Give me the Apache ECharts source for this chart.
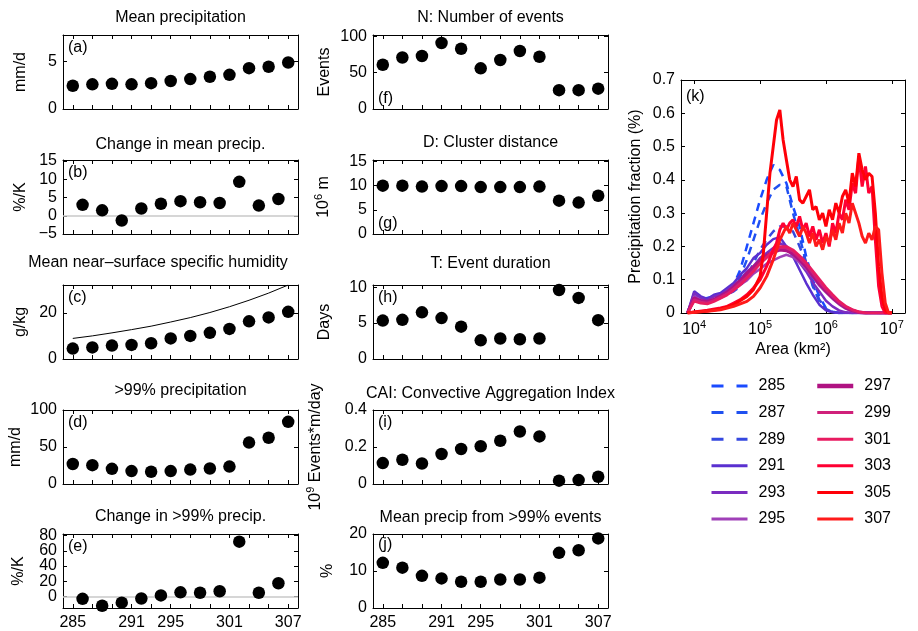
<!DOCTYPE html>
<html>
<head>
<meta charset="utf-8">
<script src="https://cdn.jsdelivr.net/npm/echarts@6/dist/echarts.min.js"></script>
<style>
  html, body { margin: 0; padding: 0; background: #fff; }
  #chart { width: 918px; height: 631px; }
</style>
</head>
<body>
<div id="chart"></div>
<script>
const FONT = "'Liberation Sans', Arial, Helvetica, sans-serif";

// surface temperatures (K)
const temps = [285, 287, 289, 291, 293, 295, 297, 299, 301, 303, 305, 307];
const midTemps = [286, 288, 290, 292, 294, 296, 298, 300, 302, 304, 306];
const tempLabels = [285, 291, 295, 301, 307];

// left column
const meanPrecip = [2.45, 2.6, 2.65, 2.6, 2.72, 2.95, 3.15, 3.4, 3.6, 4.3, 4.45, 4.9];
const changeMean = [3.0, 1.5, -1.3, 2.0, 3.3, 4.0, 3.7, 3.5, 9.3, 2.8, 4.6];
const humidity = [4.5, 5.0, 5.8, 6.1, 6.8, 8.9, 10.0, 11.3, 13.0, 16.3, 18.0, 20.4];
const ccCurve = [8.9, 10.0, 11.3, 12.7, 14.2, 16.0, 17.9, 20.1, 22.6, 25.4, 28.5, 32.0];
const extremePrecip = [27, 25.5, 20.5, 17.5, 16.5, 17.5, 19.5, 21, 23.5, 56, 62.5, 84];
const changeExtreme = [-3, -12, -8, -2.5, 1.5, 5.5, 5, 7, 72, 5, 17.5];

// middle column
const events = [61, 71, 73, 91, 83, 56, 67.5, 80, 72, 26, 26, 28];
const clusterDist = [10.0, 10.0, 9.8, 9.9, 9.9, 9.7, 9.7, 9.7, 9.8, 6.9, 6.5, 7.9];
const duration = [5.35, 5.45, 6.5, 5.7, 4.5, 2.6, 2.85, 2.75, 2.85, 9.6, 8.5, 5.4];
const cai = [0.113, 0.131, 0.111, 0.162, 0.189, 0.204, 0.234, 0.284, 0.257, 0.018, 0.021, 0.039];
const extremeFrac = [12.2, 10.9, 8.7, 8.0, 7.1, 7.1, 7.7, 7.7, 8.2, 14.9, 15.6, 18.8];

// panel (k): log10(area) grid and precipitation fraction
const areaExp = [3.9, 4.0, 4.1, 4.2, 4.3, 4.4, 4.5, 4.6, 4.7, 4.8, 4.9, 5.0, 5.1, 5.2, 5.3, 5.4,
                 5.5, 5.6, 5.7, 5.8, 5.9, 6.0, 6.1, 6.2, 6.3, 6.4, 6.5, 6.6, 6.7, 6.8, 6.9, 7.0];
const frac285 = [0, 0.05, 0.04, 0.045, 0.05, 0.055, 0.065, 0.085, 0.13, 0.2, 0.27, 0.34, 0.4, 0.445, 0.43, 0.39,
                 0.32, 0.26, 0.17, 0.1, 0.05, 0.015, 0.004, 0, 0, 0, 0, 0, 0, 0, 0, 0];
const frac287 = [0, 0.05, 0.04, 0.04, 0.045, 0.05, 0.06, 0.075, 0.11, 0.16, 0.22, 0.28, 0.33, 0.37, 0.385, 0.38,
                 0.3, 0.23, 0.15, 0.08, 0.035, 0.01, 0.003, 0, 0, 0, 0, 0, 0, 0, 0, 0];
const frac289 = [0, 0.05, 0.04, 0.04, 0.045, 0.05, 0.055, 0.065, 0.08, 0.11, 0.15, 0.19, 0.22, 0.245, 0.26, 0.26,
                 0.245, 0.2, 0.15, 0.085, 0.04, 0.012, 0.003, 0, 0, 0, 0, 0, 0, 0, 0, 0];
const frac291 = [0, 0.065, 0.05, 0.042, 0.055, 0.06, 0.075, 0.09, 0.115, 0.135, 0.165, 0.18, 0.205, 0.222, 0.228, 0.2,
                 0.17, 0.13, 0.09, 0.055, 0.025, 0.008, 0.002, 0, 0, 0, 0, 0, 0, 0, 0, 0];
const frac293 = [0, 0.06, 0.045, 0.038, 0.05, 0.055, 0.068, 0.085, 0.1, 0.125, 0.14, 0.165, 0.18, 0.195, 0.21, 0.2,
                 0.182, 0.152, 0.125, 0.092, 0.065, 0.037, 0.02, 0.008, 0.002, 0, 0, 0, 0, 0, 0, 0];
const frac295 = [0, 0.05, 0.038, 0.034, 0.042, 0.045, 0.058, 0.07, 0.085, 0.098, 0.118, 0.132, 0.148, 0.158, 0.168, 0.175,
                 0.168, 0.152, 0.132, 0.108, 0.082, 0.062, 0.043, 0.026, 0.013, 0.005, 0.001, 0, 0, 0, 0, 0];
const frac297 = [0, 0.045, 0.036, 0.034, 0.04, 0.05, 0.062, 0.078, 0.097, 0.118, 0.138, 0.157, 0.172, 0.183, 0.19, 0.188,
                 0.178, 0.16, 0.14, 0.112, 0.088, 0.066, 0.046, 0.03, 0.016, 0.007, 0.002, 0, 0, 0, 0, 0];
const frac299 = [0, 0.04, 0.033, 0.03, 0.038, 0.048, 0.058, 0.073, 0.09, 0.108, 0.128, 0.148, 0.166, 0.18, 0.197, 0.195,
                 0.185, 0.166, 0.146, 0.12, 0.094, 0.071, 0.051, 0.032, 0.019, 0.009, 0.003, 0, 0, 0, 0, 0];
const frac301 = [0, 0.035, 0.029, 0.027, 0.034, 0.044, 0.054, 0.068, 0.084, 0.104, 0.124, 0.148, 0.168, 0.188, 0.2, 0.2,
                 0.19, 0.172, 0.152, 0.127, 0.102, 0.077, 0.056, 0.036, 0.021, 0.011, 0.004, 0.001, 0, 0, 0, 0];
// warm runs: [log10 area, fraction]
const frac303 = [[3.9, 0], [4.0, 0.003], [4.2, 0.008], [4.4, 0.015], [4.5, 0.02], [4.6, 0.03], [4.7, 0.04], [4.8, 0.055],
  [4.9, 0.075], [5.0, 0.1], [5.1, 0.14], [5.2, 0.19], [5.25, 0.21], [5.3, 0.25], [5.35, 0.27], [5.4, 0.25], [5.45, 0.27],
  [5.5, 0.28], [5.55, 0.26], [5.6, 0.29], [5.65, 0.25], [5.7, 0.27], [5.75, 0.23], [5.8, 0.26], [5.85, 0.22], [5.9, 0.25],
  [5.95, 0.21], [6.0, 0.24], [6.05, 0.2], [6.1, 0.27], [6.15, 0.24], [6.2, 0.3], [6.25, 0.28], [6.3, 0.34], [6.35, 0.31],
  [6.4, 0.39], [6.45, 0.36], [6.5, 0.47], [6.55, 0.38], [6.6, 0.44], [6.65, 0.36], [6.7, 0.38], [6.75, 0.22], [6.8, 0.08],
  [6.85, 0.02], [6.9, 0], [7.0, 0]];
const frac305 = [[3.9, 0], [4.0, 0.002], [4.2, 0.006], [4.4, 0.012], [4.6, 0.025], [4.8, 0.05], [4.9, 0.07], [5.0, 0.11],
  [5.05, 0.18], [5.1, 0.3], [5.15, 0.42], [5.2, 0.5], [5.25, 0.58], [5.3, 0.61], [5.35, 0.52], [5.4, 0.46], [5.45, 0.4],
  [5.5, 0.38], [5.55, 0.41], [5.6, 0.34], [5.65, 0.33], [5.7, 0.35], [5.75, 0.37], [5.8, 0.31], [5.85, 0.32], [5.9, 0.28],
  [5.95, 0.3], [6.0, 0.26], [6.05, 0.31], [6.1, 0.28], [6.15, 0.33], [6.2, 0.3], [6.25, 0.35], [6.3, 0.37], [6.35, 0.33],
  [6.4, 0.42], [6.45, 0.38], [6.5, 0.48], [6.55, 0.43], [6.6, 0.4], [6.65, 0.42], [6.7, 0.41], [6.75, 0.3], [6.8, 0.14],
  [6.85, 0.05], [6.9, 0.01], [6.95, 0], [7.0, 0]];
const frac307 = [[3.9, 0], [4.0, 0.002], [4.2, 0.005], [4.4, 0.01], [4.6, 0.02], [4.8, 0.035], [4.9, 0.05], [5.0, 0.075],
  [5.1, 0.11], [5.2, 0.16], [5.25, 0.19], [5.3, 0.22], [5.35, 0.24], [5.4, 0.26], [5.45, 0.24], [5.5, 0.27], [5.55, 0.25],
  [5.6, 0.23], [5.65, 0.26], [5.7, 0.24], [5.75, 0.21], [5.8, 0.24], [5.85, 0.2], [5.9, 0.22], [5.95, 0.19], [6.0, 0.23],
  [6.05, 0.21], [6.1, 0.25], [6.15, 0.22], [6.2, 0.27], [6.25, 0.24], [6.3, 0.3], [6.35, 0.27], [6.4, 0.33], [6.45, 0.3],
  [6.5, 0.27], [6.55, 0.23], [6.6, 0.21], [6.65, 0.24], [6.7, 0.22], [6.75, 0.26], [6.8, 0.25], [6.85, 0.12], [6.9, 0.03],
  [6.95, 0], [7.0, 0]];
const areaTicks = [4, 5, 6, 7];

// layout
const colLeft = [63, 373];
const rowTop = [35, 160, 285, 410, 534];
const W = 235, H = 74;

const panels = [
  { tag: "(a)", title: "Mean precipitation", unit: "mm/d", col: 0, row: 0, xs: temps, ys: meanPrecip,
    min: 0, max: 7.8, ticks: [0, 5], titleY: 18, gap: 31 },
  { tag: "(b)", title: "Change in mean precip.", unit: "%/K", col: 0, row: 1, xs: midTemps, ys: changeMean,
    min: -5, max: 15.3, ticks: [-5, 0, 5, 10, 15], titleY: 145, gap: 31, zero: true },
  { tag: "(c)", title: "Mean near\u2013surface specific humidity", unit: "g/kg", col: 0, row: 2, xs: temps, ys: humidity,
    min: 0, max: 32, ticks: [0, 20], titleY: 263, titleX: 158, gap: 31, curve: ccCurve },
  { tag: "(d)", title: ">99% precipitation", unit: "mm/d", col: 0, row: 3, xs: temps, ys: extremePrecip,
    min: 0, max: 100, ticks: [0, 50, 100], titleY: 391, gap: 31 },
  { tag: "(e)", title: "Change in >99% precip.", unit: "%/K", col: 0, row: 4, xs: midTemps, ys: changeExtreme,
    min: -15, max: 82, ticks: [0, 20, 40, 60, 80], titleY: 517, gap: 33, zero: true, packedLabels: true },
  { tag: "(f)", title: "N: Number of events", unit: "Events", col: 1, row: 0, xs: temps, ys: events,
    min: 0, max: 102, ticks: [0, 50, 100], titleY: 18, gap: 37, tagBottom: true },
  { tag: "(g)", title: "D: Cluster distance", unit: "10{s|6} m", col: 1, row: 1, xs: temps, ys: clusterDist,
    min: 0, max: 15.3, ticks: [0, 5, 10, 15], titleY: 143, gap: 38, tagBottom: true },
  { tag: "(h)", title: "T: Event duration", unit: "Days", col: 1, row: 2, xs: temps, ys: duration,
    min: 0, max: 10.3, ticks: [0, 5, 10], titleY: 264, gap: 37 },
  { tag: "(i)", title: "CAI: Convective Aggregation Index", unit: "10{s|9} Events*m/day", col: 1, row: 3, xs: temps, ys: cai,
    min: 0, max: 0.4, ticks: [0, 0.2, 0.4], titleY: 394, gap: 46 },
  { tag: "(j)", title: "Mean precip from >99% events", unit: "%", col: 1, row: 4, xs: temps, ys: extremeFrac,
    min: 0, max: 20, ticks: [0, 10, 20], titleY: 518, gap: 34 },
];

const fracSeries = [
  { name: "285", data: frac285, color: "#1a4bff", dashed: true },
  { name: "287", data: frac287, color: "#1f50f0", dashed: true },
  { name: "289", data: frac289, color: "#3548e0", dashed: true },
  { name: "291", data: frac291, color: "#5a30d0" },
  { name: "293", data: frac293, color: "#7a2cc0" },
  { name: "295", data: frac295, color: "#a040b8" },
  { name: "297", data: frac297, color: "#b01282", width: 3.5 },
  { name: "299", data: frac299, color: "#d0207a" },
  { name: "301", data: frac301, color: "#e81b60" },
  { name: "303", pairs: frac303, color: "#ff0033" },
  { name: "305", pairs: frac305, color: "#ff0008" },
  { name: "307", pairs: frac307, color: "#ff1a1a" },
];

const txt = { color: "#000", fontSize: 16, fontFamily: FONT };
const sup = { s: { fontSize: 11, lineHeight: 12, verticalAlign: "top", fontFamily: FONT, color: "#000" } };
const boxLine = { show: true, onZero: false, lineStyle: { color: "#000", width: 1 } };
const minus = (v) => String(v).replace("-", "\u2212");

const grids = [], xAxes = [], yAxes = [], series = [], graphics = [];

panels.forEach((p, i) => {
  const left = colLeft[p.col], top = rowTop[p.row];
  grids.push({ left: left, top: top, width: W, height: H });
  const xTick = { inside: true, length: 4, lineStyle: { color: "#000" }, customValues: temps };
  xAxes.push({
    gridIndex: i, type: "value", position: "bottom", min: 284, max: 308,
    axisLine: boxLine, axisTick: xTick, splitLine: { show: false },
    axisLabel: Object.assign({ show: p.row === 4, customValues: tempLabels, margin: 7 }, txt),
  });
  xAxes.push({
    gridIndex: i, type: "value", position: "top", min: 284, max: 308,
    axisLine: boxLine, axisTick: xTick, splitLine: { show: false }, axisLabel: { show: false },
  });
  const yTick = { inside: true, length: 4, lineStyle: { color: "#000" }, customValues: p.ticks };
  yAxes.push({
    gridIndex: i, type: "value", position: "left", min: p.min, max: p.max,
    axisLine: boxLine, axisTick: yTick, splitLine: { show: false },
    axisLabel: Object.assign({ show: !p.packedLabels, customValues: p.ticks, margin: 6, formatter: minus }, txt),
    name: p.unit, nameLocation: "middle", nameGap: p.gap,
    nameTextStyle: Object.assign({ lineHeight: 22, rich: sup }, txt),
  });
  yAxes.push({
    gridIndex: i, type: "value", position: "right", min: p.min, max: p.max,
    axisLine: boxLine, axisTick: yTick, splitLine: { show: false }, axisLabel: { show: false },
  });
  if (p.curve) {
    series.push({
      type: "line", xAxisIndex: 2 * i, yAxisIndex: 2 * i, z: 2,
      data: temps.map((t, k) => [t, p.curve[k]]),
      showSymbol: false, symbol: "none", lineStyle: { color: "#000", width: 1 },
    });
  }
  const sc = {
    type: "scatter", xAxisIndex: 2 * i, yAxisIndex: 2 * i, z: 3,
    data: p.xs.map((t, k) => [t, p.ys[k]]),
    symbol: "circle", symbolSize: 12.5, itemStyle: { color: "#000", opacity: 1 },
  };
  if (p.zero) {
    sc.markLine = {
      silent: true, z: 1, symbol: "none", label: { show: false },
      lineStyle: { color: "#c8c8c8", width: 1.5, type: "solid" },
      data: [{ yAxis: 0 }],
    };
  }
  series.push(sc);
  graphics.push({
    type: "text", x: p.titleX || left + W / 2, y: p.titleY,
    style: { text: p.title, fill: "#000", font: "16px " + FONT, align: "center", verticalAlign: "middle",
             textAlign: "center", textVerticalAlign: "middle" },
  });
  const tagY = p.tagBottom ? top + H - 10 : (p.row === 4 && p.col === 1 ? top + 11 : top + 13);
  graphics.push({
    type: "text", x: left + 5, y: tagY,
    style: { text: p.tag, fill: "#000", font: "16px " + FONT, align: "left", verticalAlign: "middle",
             textAlign: "left", textVerticalAlign: "middle" },
  });
});

// panel (k)
const k = panels.length;
const kLeft = 681, kTop = 80, kW = 224, kH = 233;
grids.push({ left: kLeft, top: kTop, width: kW, height: kH });
const kxTick = { inside: true, length: 4, lineStyle: { color: "#000" }, customValues: areaTicks };
xAxes.push({
  gridIndex: k, type: "value", position: "bottom", min: 3.8, max: 7.2,
  axisLine: boxLine, axisTick: kxTick, splitLine: { show: false },
  axisLabel: Object.assign({ customValues: areaTicks, margin: 6, lineHeight: 22, rich: sup,
    formatter: (v) => "10{s|" + v + "}" }, txt),
  name: "Area (km\u00b2)", nameLocation: "middle", nameGap: 23, nameTextStyle: txt,
});
xAxes.push({
  gridIndex: k, type: "value", position: "top", min: 3.8, max: 7.2,
  axisLine: boxLine, axisTick: kxTick, splitLine: { show: false }, axisLabel: { show: false },
});
yAxes.push({
  gridIndex: k, type: "value", position: "left", min: 0, max: 0.7, interval: 0.1,
  axisLine: boxLine, axisTick: { inside: true, length: 4, lineStyle: { color: "#000" } }, splitLine: { show: false },
  axisLabel: Object.assign({ margin: 6, formatter: (v) => (v === 0 ? "0" : v.toFixed(1)) }, txt),
  name: "Precipitation fraction (%)", nameLocation: "middle", nameGap: 37, nameTextStyle: txt,
});
yAxes.push({
  gridIndex: k, type: "value", position: "right", min: 0, max: 0.7, interval: 0.1,
  axisLine: boxLine, axisTick: { inside: true, length: 4, lineStyle: { color: "#000" } },
  splitLine: { show: false }, axisLabel: { show: false },
});
fracSeries.forEach((s) => {
  const isRed = !!s.pairs;
  series.push({
    name: s.name, type: "line", xAxisIndex: 2 * k, yAxisIndex: 2 * k,
    data: isRed ? s.pairs : areaExp.map((x, j) => [x, s.data[j]]),
    symbol: "none", showSymbol: false, z: 2,
    color: s.color,
    lineStyle: { color: s.color, width: s.width || (isRed ? 3 : 2.5), type: s.dashed ? [8, 6] : "solid" },
  });
});
graphics.push({
  type: "text", x: kLeft + 5, y: kTop + 17,
  style: { text: "(k)", fill: "#000", font: "16px " + FONT, align: "left", verticalAlign: "middle",
           textAlign: "left", textVerticalAlign: "middle" },
});

const legendItem = (s) => {
  const item = { name: s.name, itemStyle: { opacity: 0 },
                 lineStyle: { width: s.width ? 4.5 : 3, color: s.color } };
  if (s.dashed) item.lineStyle.type = [12, 13];
  return item;
};
const legendBase = {
  orient: "vertical", top: 373, itemWidth: 36, itemHeight: 14, itemGap: 10.6,
  padding: 5, selectedMode: false, itemStyle: { opacity: 0 },
  textStyle: { color: "#000", fontSize: 16, fontFamily: FONT, padding: [0, 0, 0, 6] },
};

const option = {
  animation: false,
  backgroundColor: "#fff",
  textStyle: { fontFamily: FONT },
  grid: grids,
  xAxis: xAxes,
  yAxis: yAxes,
  legend: [
    Object.assign({ left: 705, data: fracSeries.slice(0, 6).map(legendItem) }, legendBase),
    Object.assign({ left: 810, data: fracSeries.slice(6).map(legendItem) }, legendBase),
  ],
  graphic: graphics,
  series: series,
};

const chart = echarts.init(document.getElementById("chart"));
chart.setOption(option);

// ECharts drops tightly packed tick labels, so place those through the axis scale
const extra = [];
panels.forEach((p, i) => {
  if (!p.packedLabels) return;
  p.ticks.forEach((v) => {
    extra.push({
      type: "text",
      x: colLeft[p.col] - 6,
      y: chart.convertToPixel({ yAxisIndex: 2 * i }, v),
      style: { text: minus(v), fill: "#000", font: "16px " + FONT, align: "right", verticalAlign: "middle",
               textAlign: "right", textVerticalAlign: "middle" },
    });
  });
});
chart.setOption({ graphic: graphics.concat(extra) });
</script>
</body>
</html>
